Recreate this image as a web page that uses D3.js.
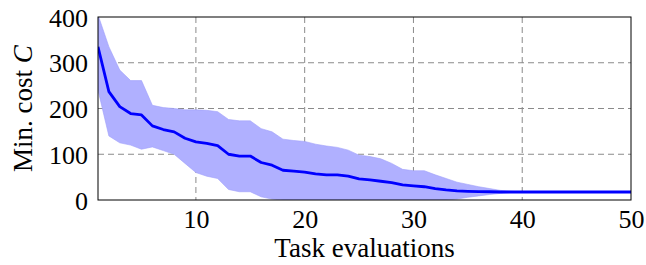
<!DOCTYPE html>
<html>
<head>
<meta charset="utf-8">
<script src="https://cdn.jsdelivr.net/npm/d3@7"></script>
<style>
  body { margin: 0; background: #fff; }
</style>
</head>
<body>
<svg id="chart" width="646" height="265"></svg>
<script>
// task evaluation index and min cost statistics
var evals = d3.range(1, 51);
var meanCost = [335, 237, 204, 189, 186, 162, 154, 149, 135, 127,
  124, 119, 100, 96, 96, 82, 76, 65, 63, 61,
  57, 55, 55, 52, 46, 44, 41, 38, 33, 31,
  29, 25, 22, 20, 19, 18.5, 18, 17.5, 17.5, 17.5,
  17.5, 17.5, 17.5, 17.5, 17.5, 17.5, 17.5, 17.5, 17.5, 17.5];
var upperCost = [405, 335, 284, 261, 261, 207, 202, 200, 197, 197,
  196, 193, 176, 173, 173, 156, 149, 133, 130, 128,
  122, 118, 115, 109, 98, 95, 90, 80, 67, 64,
  64, 55, 47, 39, 34, 29, 25, 21, 19, 17.5,
  17.5, 17.5, 17.5, 17.5, 17.5, 17.5, 17.5, 17.5, 17.5, 17.5];
var lowerCost = [240, 140, 125, 120, 111, 116, 108, 100, 80, 60,
  52, 47, 23, 18, 18, 7, 2, 0, 0, 0,
  0, 0, 0, 0, 0, 0, 0, 0, 0, 0,
  0, 0, 0, 2, 6, 9, 12, 14.5, 16.5, 17.5,
  17.5, 17.5, 17.5, 17.5, 17.5, 17.5, 17.5, 17.5, 17.5, 17.5];
var xTicks = [10, 20, 30, 40, 50];
var yTicks = [0, 100, 200, 300, 400];

var FONT = "'Liberation Serif', 'DejaVu Serif', serif";

var svg = d3.select("#chart");
var margin = {left: 98, right: 15, top: 17, bottom: 65};
var width = 646 - margin.left - margin.right,
  height = 265 - margin.top - margin.bottom;

var x = d3.scaleLinear().domain([1, 50]).range([0, width]);
var y = d3.scaleLinear().domain([0, 400]).range([height, 0]);

var g = svg.append("g")
  .attr("transform", "translate(" + margin.left + "," + margin.top + ")");

g.append("clipPath").attr("id", "plot-clip")
  .append("rect").attr("width", width).attr("height", height);

// dashed grid
g.selectAll(".vgrid")
  .data(xTicks.filter(function(d) { return d < 50; }))
  .enter().append("line")
  .attr("x1", function(d) { return x(d); })
  .attr("x2", function(d) { return x(d); })
  .attr("y1", 0).attr("y2", height)
  .attr("stroke", "#8a8a8a").attr("stroke-width", 1)
  .attr("stroke-dasharray", "6,4");

g.selectAll(".hgrid")
  .data(yTicks.filter(function(d) { return d > 0 && d < 400; }))
  .enter().append("line")
  .attr("x1", 0).attr("x2", width)
  .attr("y1", function(d) { return y(d); })
  .attr("y2", function(d) { return y(d); })
  .attr("stroke", "#8a8a8a").attr("stroke-width", 1)
  .attr("stroke-dasharray", "6,4");

var rows = evals.map(function(e, i) {
  return {e: e, m: meanCost[i], lo: lowerCost[i], hi: upperCost[i]};
});

var area = d3.area()
  .x(function(d) { return x(d.e); })
  .y0(function(d) { return y(d.lo); })
  .y1(function(d) { return y(d.hi); });

g.append("path")
  .datum(rows)
  .attr("clip-path", "url(#plot-clip)")
  .attr("d", area)
  .attr("fill", "rgb(176,176,255)")
  .attr("stroke", "rgb(160,160,250)")
  .attr("stroke-width", 0.6);

var line = d3.line()
  .x(function(d) { return x(d.e); })
  .y(function(d) { return y(d.m); });

g.append("path")
  .datum(rows)
  .attr("clip-path", "url(#plot-clip)")
  .attr("d", line)
  .attr("fill", "none")
  .attr("stroke", "#0000ff")
  .attr("stroke-width", 2.8)
  .attr("stroke-linejoin", "round");

// frame
g.append("rect")
  .attr("width", width).attr("height", height)
  .attr("fill", "none").attr("stroke", "#000").attr("stroke-width", 1);

// axes
var xAxis = d3.axisBottom(x).tickValues(xTicks).tickSize(0).tickPadding(8);
var yAxis = d3.axisLeft(y).tickValues(yTicks).tickSize(0).tickPadding(10);

var gx = g.append("g").attr("transform", "translate(0," + height + ")").call(xAxis);
var gy = g.append("g").call(yAxis);
[gx, gy].forEach(function(a) {
  a.attr("font-family", null).attr("font-size", null);
  a.select(".domain").remove();
  a.selectAll("text")
    .style("font-family", FONT)
    .style("font-size", "26px")
    .attr("fill", "#000");
});
gy.selectAll("text").attr("dy", "0.35em");
gx.selectAll("text").attr("dy", "0.75em");

svg.append("text")
  .attr("x", margin.left + width / 2)
  .attr("y", 257)
  .attr("text-anchor", "middle")
  .style("font-family", FONT)
  .style("font-size", "27px")
  .text("Task evaluations");

var yl = svg.append("text")
  .attr("transform", "translate(32," + (margin.top + height / 2) + ") rotate(-90)")
  .attr("text-anchor", "middle")
  .style("font-family", FONT)
  .style("font-size", "27px");
yl.append("tspan").text("Min. cost ");
yl.append("tspan").style("font-style", "italic").text("C");
</script>
</body>
</html>
